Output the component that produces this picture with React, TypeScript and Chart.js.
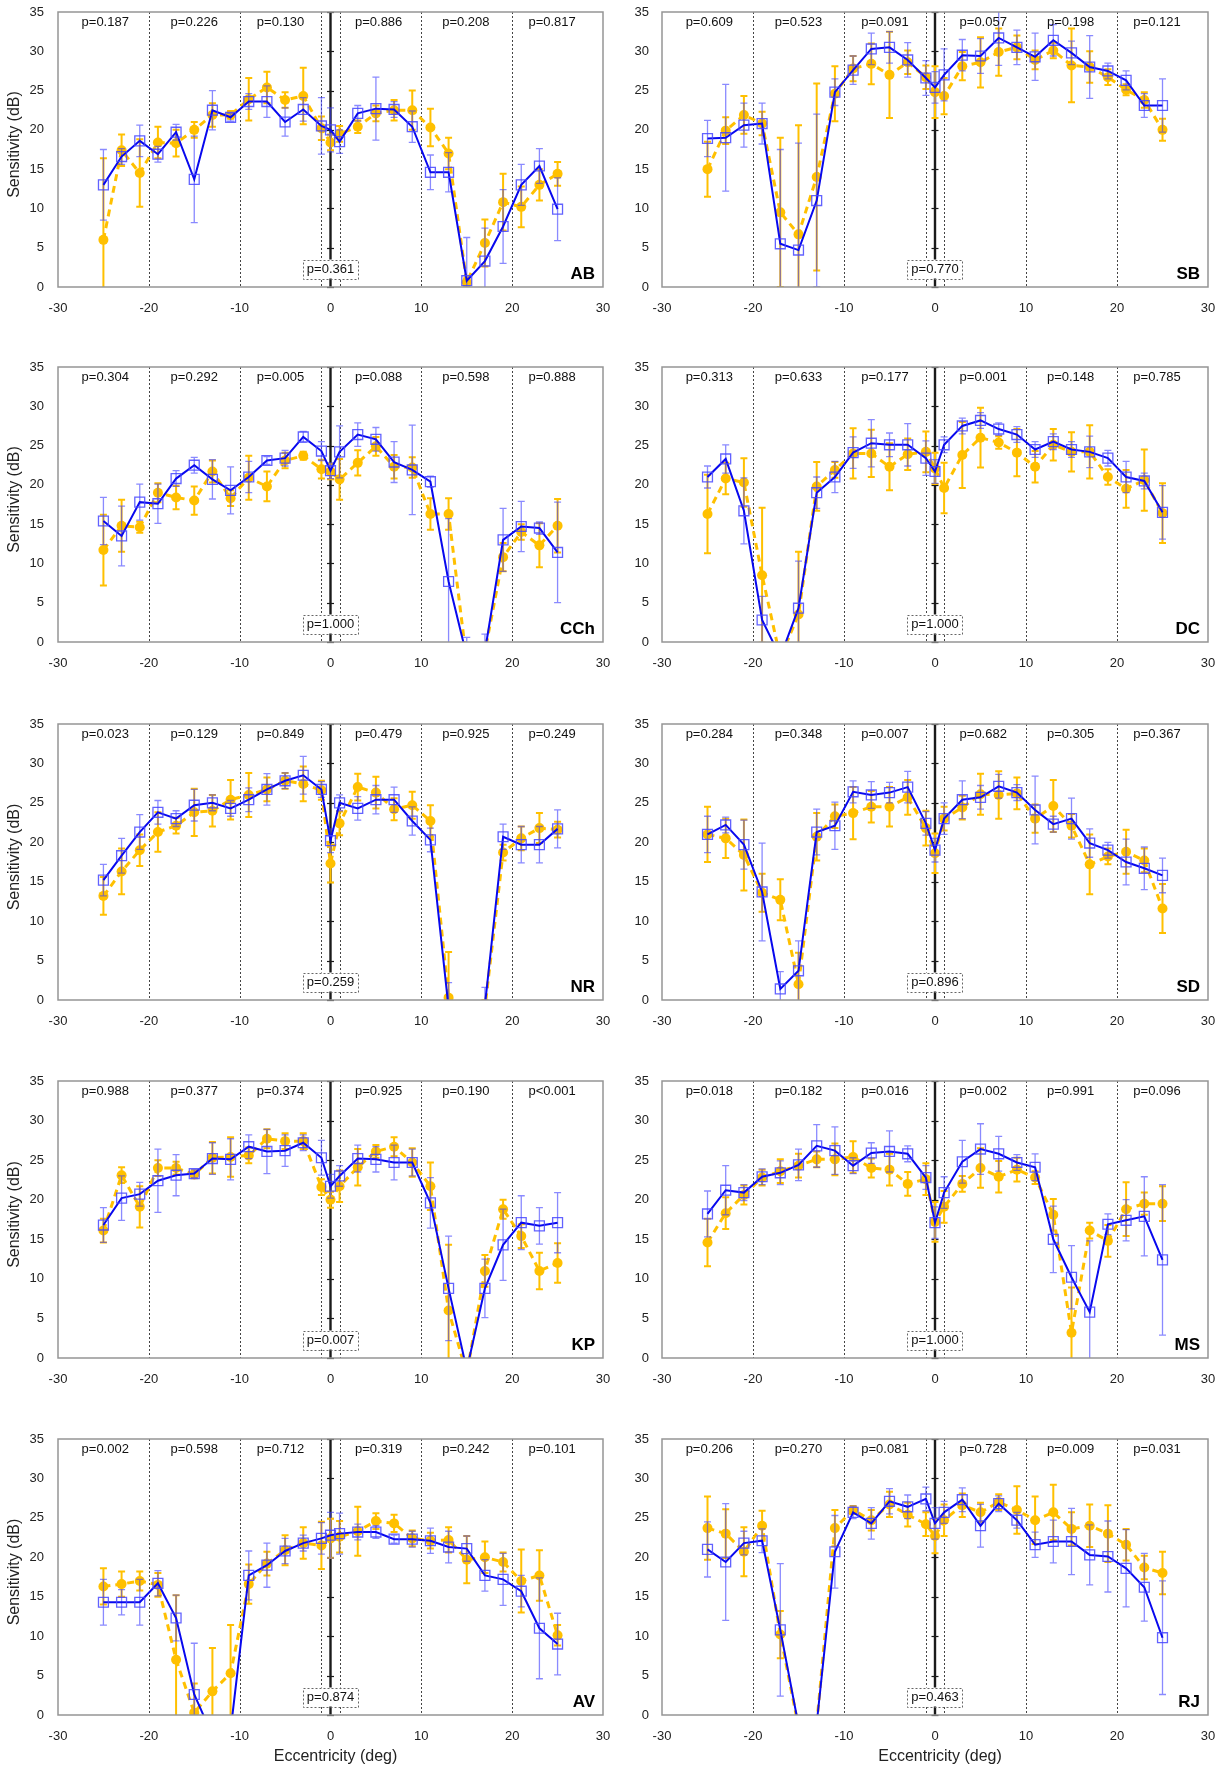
import React, { useEffect, useRef } from 'react';
import { Chart, registerables } from 'chart.js';

Chart.register(...registerables);

const FONT = '"Liberation Sans", Arial, sans-serif';
Chart.defaults.font.family = FONT;

// eccentricity positions (deg)
const ecc = [-25, -23, -21, -19, -17, -15, -13, -11, -9, -7, -5, -3, -1, 0, 1, 3, 5, 7, 9, 11, 13, 15, 17, 19, 21, 23, 25];
const dividerX = [-20, -10, -1, 1, 10, 20];
const pLabelX = [-24.8, -15, -5.5, 5.3, 14.9, 24.4];

// ---- AB ----
const abBlue = [13.0, 16.6, 18.6, 16.9, 19.7, 13.7, 22.5, 21.6, 23.6, 23.6, 21.0, 22.6, 20.5, 20.0, 18.5, 22.1, 22.7, 22.6, 20.4, 14.6, 14.6, 0.8, 3.3, 7.7, 13.0, 15.4, 9.9];
const abBlueErr = [4.5, 1.0, 2.0, 1.0, 1.0, 5.5, 2.5, 0.5, 1.0, 2.0, 1.8, 1.5, 3.6, 2.8, 1.5, 1.0, 4.0, 1.0, 2.0, 2.2, 2.5, 5.5, 4.2, 4.7, 2.6, 2.2, 4.0];
const abYellow = [6.0, 17.4, 14.5, 18.4, 18.3, 20.0, 21.9, 21.9, 23.9, 25.4, 23.8, 24.3, 20.2, 18.4, 19.5, 20.4, 22.1, 22.5, 22.5, 20.3, 17.0, 0.6, 5.6, 10.8, 10.2, 13.0, 14.4];
const abYellowErr = [10.4, 2.0, 4.3, 2.0, 1.7, 1.0, 1.5, 0.5, 2.7, 2.0, 1.0, 3.6, 1.5, 1.0, 1.0, 0.8, 1.0, 1.3, 2.5, 2.4, 2.0, 0.5, 3.0, 3.6, 2.6, 2.0, 1.5];
const abP = ['p=0.187', 'p=0.226', 'p=0.130', 'p=0.886', 'p=0.208', 'p=0.817'];
const abPc = 'p=0.361';

// ---- SB ----
const sbBlue = [18.9, 19.0, 20.6, 20.8, 5.5, 4.7, 11.0, 24.8, 27.6, 30.3, 30.5, 28.9, 26.6, 25.4, 27.0, 29.5, 29.4, 31.7, 30.5, 29.3, 31.4, 29.8, 28.0, 27.5, 26.3, 23.1, 23.1];
const sbBlueErr = [2.3, 6.8, 2.8, 2.6, 12.0, 13.6, 11.0, 1.7, 1.8, 2.0, 2.0, 2.2, 2.2, 2.0, 3.3, 2.0, 2.2, 3.5, 2.2, 3.0, 2.0, 1.5, 4.0, 1.0, 1.2, 1.5, 3.4];
const sbYellow = [15.0, 19.9, 21.9, 20.8, 9.5, 6.7, 14.0, 24.6, 27.8, 28.4, 27.0, 28.6, 26.7, 24.8, 24.3, 28.1, 28.6, 29.9, 30.5, 28.9, 30.1, 28.2, 28.0, 26.7, 25.1, 23.8, 20.0];
const sbYellowErr = [3.5, 1.7, 2.4, 1.5, 9.5, 13.9, 11.9, 3.5, 1.6, 2.6, 5.5, 1.5, 1.5, 3.3, 2.3, 1.8, 3.2, 3.0, 1.5, 1.2, 1.0, 4.7, 2.0, 1.0, 0.7, 1.0, 1.4];
const sbP = ['p=0.609', 'p=0.523', 'p=0.091', 'p=0.057', 'p=0.198', 'p=0.121'];
const sbPc = 'p=0.770';

// ---- CCh ----
const cchBlue = [15.4, 13.5, 17.8, 17.6, 20.8, 22.5, 20.7, 19.3, 21.0, 23.1, 23.4, 26.1, 24.3, 21.8, 24.2, 26.4, 25.8, 22.9, 21.9, 20.4, 7.7, -1.8, -1.2, 13.0, 14.7, 14.5, 11.4];
const cchBlueErr = [3.0, 3.8, 2.3, 2.5, 1.0, 1.0, 2.5, 3.0, 2.0, 0.5, 1.0, 0.7, 1.2, 1.0, 3.3, 1.5, 1.5, 2.6, 5.7, 0.7, 8.0, 2.4, 2.2, 4.0, 3.2, 0.8, 6.4];
const cchYellow = [11.7, 14.8, 14.6, 19.0, 18.4, 18.0, 21.7, 18.3, 20.9, 19.8, 23.1, 23.7, 22.0, 21.7, 20.7, 22.8, 24.9, 22.3, 22.2, 16.3, 16.3, -2.5, -1.2, 10.8, 14.0, 12.3, 14.8];
const cchYellowErr = [4.5, 3.3, 0.7, 1.2, 1.5, 1.8, 1.4, 1.0, 2.8, 1.9, 1.0, 0.5, 1.2, 1.0, 2.6, 1.6, 1.2, 1.5, 1.3, 2.0, 2.0, 1.0, 1.0, 1.8, 1.0, 2.8, 3.4];
const cchP = ['p=0.304', 'p=0.292', 'p=0.005', 'p=0.088', 'p=0.598', 'p=0.888'];
const cchPc = 'p=1.000';

// ---- DC ----
const dcBlue = [21.0, 23.3, 16.7, 2.8, -1.9, 4.3, 19.0, 21.0, 24.1, 25.3, 25.1, 25.1, 23.4, 21.7, 25.1, 27.5, 28.2, 27.1, 26.4, 24.5, 25.5, 24.5, 24.2, 23.4, 21.0, 20.5, 16.5];
const dcBlueErr = [1.4, 1.8, 4.2, 3.0, 1.0, 6.0, 2.0, 2.0, 2.0, 3.0, 1.5, 2.7, 2.2, 1.5, 1.0, 1.0, 1.0, 0.8, 1.0, 1.0, 1.0, 1.0, 2.0, 1.0, 2.0, 1.0, 3.4];
const dcYellow = [16.3, 20.8, 20.3, 8.5, -2.0, 3.5, 19.8, 21.9, 24.0, 24.0, 22.3, 23.9, 24.2, 22.1, 19.6, 23.8, 26.0, 25.4, 24.1, 22.3, 25.1, 24.2, 24.2, 21.0, 19.5, 20.6, 16.4];
const dcYellowErr = [5.0, 2.0, 3.1, 8.6, 1.0, 8.0, 3.1, 1.0, 3.2, 3.0, 3.0, 2.0, 2.6, 2.0, 3.2, 4.2, 3.8, 0.8, 3.0, 2.0, 2.0, 2.5, 3.4, 1.0, 2.4, 3.9, 3.8];
const dcP = ['p=0.313', 'p=0.633', 'p=0.177', 'p=0.001', 'p=0.148', 'p=0.785'];
const dcPc = 'p=1.000';

// ---- NR ----
const nrBlue = [15.2, 18.3, 21.3, 23.8, 23.0, 24.7, 25.0, 24.3, 25.4, 26.7, 27.8, 28.5, 26.7, 20.2, 25.0, 24.3, 25.4, 25.4, 22.7, 20.3, -1.0, -3.0, -0.7, 20.7, 19.7, 19.7, 21.7];
const nrBlueErr = [2.0, 2.2, 2.2, 1.5, 1.0, 2.0, 1.0, 1.0, 1.5, 2.0, 1.0, 2.4, 1.0, 1.5, 1.0, 1.5, 1.8, 1.6, 1.8, 1.5, 3.2, 1.0, 2.3, 1.6, 2.3, 2.3, 2.4];
const nrYellow = [13.2, 16.3, 19.0, 21.3, 22.1, 23.8, 24.0, 25.4, 26.0, 26.7, 27.8, 27.4, 26.6, 17.3, 22.4, 27.0, 26.3, 24.2, 24.7, 22.7, 0.3, -3.0, -1.0, 18.7, 20.5, 21.8, 21.6];
const nrYellowErr = [2.4, 2.9, 2.0, 2.5, 1.0, 3.0, 2.0, 2.5, 2.8, 1.5, 1.0, 2.2, 1.2, 2.4, 1.5, 1.7, 2.0, 1.4, 1.7, 2.0, 5.8, 1.0, 1.0, 1.0, 1.5, 1.9, 1.0];
const nrP = ['p=0.023', 'p=0.129', 'p=0.849', 'p=0.479', 'p=0.925', 'p=0.249'];
const nrPc = 'p=0.259';

// ---- SD ----
const sdBlue = [21.0, 22.2, 19.7, 13.7, 1.4, 3.7, 21.3, 22.1, 26.4, 26.0, 26.3, 27.0, 22.4, 19.0, 23.0, 25.4, 25.7, 27.1, 26.3, 24.1, 22.3, 23.0, 19.9, 19.0, 17.5, 16.7, 15.8];
const sdBlueErr = [2.3, 1.0, 3.1, 6.2, 2.2, 3.8, 2.9, 3.0, 1.4, 1.7, 1.3, 2.0, 1.5, 1.5, 2.0, 2.4, 1.5, 1.5, 1.0, 4.3, 1.0, 2.6, 1.8, 1.0, 2.9, 2.7, 2.2];
const sdYellow = [21.0, 20.5, 18.4, 13.6, 12.7, 2.0, 20.7, 23.3, 23.7, 24.5, 24.5, 25.7, 21.8, 18.6, 23.0, 24.4, 26.1, 26.0, 26.2, 23.0, 24.6, 22.1, 17.2, 18.2, 18.8, 17.7, 11.6];
const sdYellowErr = [3.5, 2.5, 4.5, 2.4, 2.6, 4.0, 3.0, 1.5, 3.3, 2.0, 2.5, 2.2, 2.2, 2.5, 1.5, 1.5, 2.6, 3.0, 2.0, 1.8, 3.3, 1.5, 3.8, 1.0, 2.8, 1.5, 3.1];
const sdP = ['p=0.284', 'p=0.348', 'p=0.007', 'p=0.682', 'p=0.305', 'p=0.367'];
const sdPc = 'p=0.896';

// ---- KP ----
const kpBlue = [16.8, 20.2, 20.7, 22.4, 23.1, 23.3, 25.2, 25.1, 26.7, 26.1, 26.2, 27.2, 25.3, 21.7, 23.0, 25.2, 25.1, 24.7, 24.7, 19.6, 8.8, -1.5, 8.8, 14.3, 17.1, 16.7, 17.1];
const kpBlueErr = [2.2, 2.8, 1.5, 4.0, 2.6, 0.5, 2.0, 2.6, 1.5, 2.8, 2.0, 1.0, 2.2, 1.5, 1.3, 1.7, 1.6, 2.2, 1.7, 3.2, 6.6, 1.0, 3.7, 4.5, 3.4, 2.3, 3.8];
const kpYellow = [16.1, 23.1, 19.1, 24.0, 24.0, 23.2, 25.3, 25.4, 25.6, 27.7, 27.4, 27.4, 21.6, 20.0, 21.7, 24.1, 26.1, 26.7, 24.7, 21.7, 6.0, -2.0, 11.0, 18.8, 15.4, 11.0, 12.0];
const kpYellowErr = [1.5, 1.0, 2.6, 1.0, 0.8, 0.5, 2.0, 2.5, 1.0, 1.2, 1.0, 1.0, 1.0, 1.0, 2.0, 2.3, 0.8, 1.2, 1.8, 3.0, 8.3, 1.0, 2.0, 1.2, 1.5, 2.3, 2.5];
const kpP = ['p=0.988', 'p=0.377', 'p=0.374', 'p=0.925', 'p=0.190', 'p<0.001'];
const kpPc = 'p=0.007';

// ---- MS ----
const msBlue = [18.2, 21.2, 20.9, 22.9, 23.4, 24.4, 26.8, 26.2, 24.3, 25.9, 26.1, 25.8, 22.8, 17.1, 20.9, 24.8, 26.4, 25.8, 24.7, 24.1, 15.0, 10.2, 5.8, 16.9, 17.4, 17.9, 12.4];
const msBlueErr = [2.9, 3.1, 1.0, 1.0, 1.5, 2.0, 2.7, 3.0, 1.0, 1.3, 2.6, 1.0, 1.5, 2.0, 2.0, 2.7, 3.2, 2.2, 1.0, 1.7, 4.2, 4.0, 9.0, 1.3, 2.6, 5.0, 9.5];
const msYellow = [14.6, 18.3, 20.6, 22.8, 23.6, 24.3, 25.1, 25.1, 25.4, 24.0, 23.8, 22.0, 22.6, 17.2, 19.1, 22.0, 24.0, 22.9, 23.8, 22.8, 18.1, 3.2, 16.1, 14.8, 18.8, 19.5, 19.5];
const msYellowErr = [3.0, 2.0, 1.2, 1.0, 1.5, 1.5, 1.0, 2.0, 2.0, 1.2, 2.0, 1.5, 2.0, 2.5, 2.0, 1.0, 2.5, 2.0, 1.5, 0.8, 2.0, 5.7, 1.0, 2.0, 3.4, 1.4, 2.2];
const msP = ['p=0.018', 'p=0.182', 'p=0.016', 'p=0.002', 'p=0.991', 'p=0.096'];
const msPc = 'p=1.000';

// ---- AV ----
const avBlue = [14.3, 14.3, 14.3, 16.7, 12.3, 2.6, -2.6, -2.0, 17.7, 19.0, 20.8, 21.8, 22.4, 22.8, 23.0, 23.2, 23.2, 22.3, 22.3, 22.1, 21.3, 21.1, 17.7, 17.2, 15.7, 11.0, 9.0];
const avBlueErr = [2.9, 1.6, 2.9, 1.6, 2.9, 6.5, 1.0, 1.0, 3.1, 2.8, 1.6, 1.0, 2.0, 2.9, 2.6, 1.0, 0.8, 0.5, 1.0, 1.6, 2.0, 1.6, 2.0, 3.3, 2.0, 6.4, 3.9];
const avYellow = [16.3, 16.6, 17.0, 16.5, 7.0, 0.3, 3.0, 5.3, 16.6, 19.2, 20.9, 21.8, 21.5, 22.4, 22.6, 23.3, 24.6, 24.3, 22.4, 22.1, 22.2, 19.7, 20.0, 19.4, 17.0, 17.7, 10.1];
const avYellowErr = [2.3, 1.6, 1.2, 1.5, 8.2, 3.7, 5.5, 6.1, 2.5, 1.5, 1.9, 2.0, 3.0, 2.5, 2.0, 3.1, 1.0, 1.1, 1.0, 1.0, 1.6, 3.0, 2.0, 1.2, 4.0, 3.2, 1.3];
const avP = ['p=0.002', 'p=0.598', 'p=0.712', 'p=0.319', 'p=0.242', 'p=0.101'];
const avPc = 'p=0.874';

// ---- RJ ----
const rjBlue = [21.0, 19.4, 21.8, 22.1, 10.8, -1.3, -1.1, 20.7, 25.7, 24.3, 27.1, 26.4, 27.4, 24.3, 25.7, 27.3, 24.0, 26.8, 24.7, 21.6, 22.0, 22.0, 20.3, 20.1, 18.6, 16.2, 9.8];
const rjBlueErr = [3.5, 7.4, 1.5, 1.5, 8.4, 1.0, 1.0, 4.6, 0.8, 2.0, 1.6, 1.5, 1.5, 2.0, 1.4, 1.5, 2.7, 1.0, 1.0, 1.6, 2.7, 4.2, 3.8, 4.5, 4.9, 4.3, 7.2];
const rjYellow = [23.7, 23.0, 20.7, 24.0, 10.2, -1.5, -1.2, 23.7, 26.0, 24.7, 26.7, 25.4, 24.2, 22.7, 24.7, 26.6, 25.7, 27.0, 26.0, 24.7, 25.7, 23.6, 24.0, 23.0, 21.6, 18.7, 18.0];
const rjYellowErr = [4.0, 3.1, 3.1, 1.9, 3.0, 1.0, 1.0, 2.3, 0.5, 1.3, 1.6, 1.5, 1.5, 2.2, 2.0, 1.5, 1.2, 1.0, 3.0, 3.0, 3.5, 2.1, 2.7, 3.6, 2.0, 1.5, 2.7];
const rjP = ['p=0.206', 'p=0.270', 'p=0.081', 'p=0.728', 'p=0.009', 'p=0.031'];
const rjPc = 'p=0.463';

type PanelData = {
  label: string; blue: number[]; blueErr: number[]; yellow: number[]; yellowErr: number[]; p: string[]; pc: string;
};

const panels: PanelData[] = [
  { label: 'AB', blue: abBlue, blueErr: abBlueErr, yellow: abYellow, yellowErr: abYellowErr, p: abP, pc: abPc },
  { label: 'SB', blue: sbBlue, blueErr: sbBlueErr, yellow: sbYellow, yellowErr: sbYellowErr, p: sbP, pc: sbPc },
  { label: 'CCh', blue: cchBlue, blueErr: cchBlueErr, yellow: cchYellow, yellowErr: cchYellowErr, p: cchP, pc: cchPc },
  { label: 'DC', blue: dcBlue, blueErr: dcBlueErr, yellow: dcYellow, yellowErr: dcYellowErr, p: dcP, pc: dcPc },
  { label: 'NR', blue: nrBlue, blueErr: nrBlueErr, yellow: nrYellow, yellowErr: nrYellowErr, p: nrP, pc: nrPc },
  { label: 'SD', blue: sdBlue, blueErr: sdBlueErr, yellow: sdYellow, yellowErr: sdYellowErr, p: sdP, pc: sdPc },
  { label: 'KP', blue: kpBlue, blueErr: kpBlueErr, yellow: kpYellow, yellowErr: kpYellowErr, p: kpP, pc: kpPc },
  { label: 'MS', blue: msBlue, blueErr: msBlueErr, yellow: msYellow, yellowErr: msYellowErr, p: msP, pc: msPc },
  { label: 'AV', blue: avBlue, blueErr: avBlueErr, yellow: avYellow, yellowErr: avYellowErr, p: avP, pc: avPc },
  { label: 'RJ', blue: rjBlue, blueErr: rjBlueErr, yellow: rjYellow, yellowErr: rjYellowErr, p: rjP, pc: rjPc },
];

// chart-area top/bottom per row (page pixels)
const rowBounds = [[12, 287], [367, 642], [724, 1000], [1081, 1358], [1439, 1715]];
// per column: canvas left, canvas width, y-axis width, right padding, tick padding
const colLayout = [
  { left: 0, width: 620, yw: 58, padR: 17, tickPad: 14 },
  { left: 620, width: 601, yw: 42, padR: 13, tickPad: 13 },
];
const CANVAS_H = 340;

function makeOverlay(p: PanelData, col: number, row: number) {
  return {
    id: 'overlay',
    beforeDatasetsDraw(chart: any) {
      const { ctx, chartArea: a } = chart;
      const x = chart.scales.x, y = chart.scales.y;
      ctx.save();
      ctx.strokeStyle = '#444';
      ctx.lineWidth = 1;
      ctx.setLineDash([2, 2]);
      dividerX.forEach((d) => {
        const px = Math.round(x.getPixelForValue(d)) + 0.5;
        ctx.beginPath(); ctx.moveTo(px, a.top); ctx.lineTo(px, a.bottom); ctx.stroke();
      });
      ctx.setLineDash([]);
      const cx = x.getPixelForValue(0);
      ctx.strokeStyle = '#1a1a1a';
      ctx.lineWidth = 2.4;
      ctx.beginPath(); ctx.moveTo(cx, a.top); ctx.lineTo(cx, a.bottom); ctx.stroke();
      ctx.lineWidth = 1.2;
      y.ticks.forEach((t: any) => {
        const py = Math.round(y.getPixelForValue(t.value)) + 0.5;
        ctx.beginPath(); ctx.moveTo(cx - 3.5, py); ctx.lineTo(cx + 3.5, py); ctx.stroke();
      });
      ctx.restore();
    },
    beforeDatasetDraw(chart: any, args: any) {
      const { ctx, chartArea: a } = chart;
      const x = chart.scales.x, y = chart.scales.y;
      const isBlue = args.index === 0;
      const vals = isBlue ? p.blue : p.yellow;
      const errs = isBlue ? p.blueErr : p.yellowErr;
      ctx.save();
      ctx.beginPath();
      ctx.rect(a.left, a.top, a.right - a.left, a.bottom - a.top);
      ctx.clip();
      ctx.strokeStyle = isBlue ? 'rgba(60,60,255,0.6)' : '#FFC000';
      ctx.lineWidth = isBlue ? 1.3 : 2;
      vals.forEach((v, i) => {
        const e = errs[i];
        const px = x.getPixelForValue(ecc[i]);
        const yt = y.getPixelForValue(v + e);
        const yb = y.getPixelForValue(v - e);
        ctx.beginPath();
        ctx.moveTo(px, yt); ctx.lineTo(px, yb);
        ctx.moveTo(px - 3.5, yt); ctx.lineTo(px + 3.5, yt);
        ctx.moveTo(px - 3.5, yb); ctx.lineTo(px + 3.5, yb);
        ctx.stroke();
      });
      ctx.restore();
    },
    afterDatasetsDraw(chart: any) {
      const { ctx, chartArea: a } = chart;
      const x = chart.scales.x;
      ctx.save();
      // plot frame
      ctx.strokeStyle = '#959595';
      ctx.lineWidth = 1.5;
      ctx.strokeRect(a.left, a.top, a.right - a.left, a.bottom - a.top);
      // p-values on top
      ctx.fillStyle = '#111';
      ctx.font = `13px ${FONT}`;
      ctx.textAlign = 'center';
      ctx.textBaseline = 'middle';
      p.p.forEach((t, i) => ctx.fillText(t, x.getPixelForValue(pLabelX[i]), a.top + 10));
      // centre p-box
      const cx = x.getPixelForValue(0);
      const cy = a.bottom - 18;
      const w = ctx.measureText(p.pc).width + 8;
      const h = 19;
      ctx.fillStyle = '#fff';
      ctx.fillRect(cx - w / 2, cy - h / 2, w, h);
      ctx.strokeStyle = '#666';
      ctx.lineWidth = 1;
      ctx.setLineDash([2, 2]);
      ctx.strokeRect(Math.round(cx - w / 2) + 0.5, Math.round(cy - h / 2) + 0.5, Math.round(w), h);
      ctx.setLineDash([]);
      ctx.fillStyle = '#111';
      ctx.fillText(p.pc, cx, cy + 0.5);
      // subject label
      ctx.font = `bold 17px ${FONT}`;
      ctx.textAlign = 'right';
      ctx.textBaseline = 'alphabetic';
      ctx.fillStyle = '#000';
      ctx.fillText(p.label, a.right - 8, a.bottom - 8);
      // axis titles
      ctx.fillStyle = '#222';
      if (col === 0) {
        ctx.save();
        ctx.font = `16px ${FONT}`;
        ctx.translate(15, (a.top + a.bottom) / 2 - 5);
        ctx.rotate(-Math.PI / 2);
        ctx.textAlign = 'center';
        ctx.textBaseline = 'middle';
        ctx.fillText('Sensitivity (dB)', 0, 0);
        ctx.restore();
      }
      if (row === 4) {
        ctx.font = `16px ${FONT}`;
        ctx.textAlign = 'center';
        ctx.textBaseline = 'middle';
        ctx.fillText('Eccentricity (deg)', (a.left + a.right) / 2 + 5, a.bottom + 42);
      }
      ctx.restore();
    },
  };
}

function Panel({ p, col, row }: { p: PanelData; col: number; row: number }) {
  const ref = useRef<HTMLCanvasElement>(null);
  const [top, bottom] = rowBounds[row];
  const L = colLayout[col];
  useEffect(() => {
    if (!ref.current) return;
    const xh = CANVAS_H - 12 - (bottom - top);
    const tickFont = { family: FONT, size: 13 };
    const chart = new Chart(ref.current, {
      type: 'line',
      data: {
        datasets: [
          {
            data: ecc.map((e, i) => ({ x: e, y: p.blue[i] })),
            borderColor: '#0808ee',
            borderWidth: 2,
            pointStyle: 'rect',
            pointRadius: 7,
            pointBorderWidth: 1.3,
            pointBorderColor: 'rgba(70,70,255,0.85)',
            pointBackgroundColor: 'rgba(255,255,255,0)',
            tension: 0,
            fill: false,
          },
          {
            data: ecc.map((e, i) => ({ x: e, y: p.yellow[i] })),
            borderColor: '#FFC000',
            borderWidth: 3,
            borderDash: [7, 5],
            pointStyle: 'circle',
            pointRadius: 5,
            pointBorderWidth: 0,
            pointBorderColor: '#FFC000',
            pointBackgroundColor: '#FFC000',
            tension: 0,
            fill: false,
          },
        ],
      } as any,
      options: {
        responsive: false,
        animation: false,
        events: [],
        layout: { padding: { top: 12, right: L.padR, left: 0, bottom: 0 } },
        plugins: { legend: { display: false }, tooltip: { enabled: false } },
        scales: {
          x: {
            type: 'linear',
            min: -30,
            max: 30,
            ticks: { stepSize: 10, padding: 14, color: '#222', font: tickFont, maxRotation: 0, autoSkip: false },
            grid: { display: false, drawTicks: false },
            border: { display: false },
            afterFit: (s: any) => { s.height = xh; s.paddingLeft = 0; s.paddingRight = 0; },
          },
          y: {
            type: 'linear',
            min: 0,
            max: 35,
            ticks: { stepSize: 5, padding: L.tickPad, color: '#222', font: tickFont },
            grid: { display: false, drawTicks: false },
            border: { display: false },
            afterFit: (s: any) => { s.width = L.yw; s.paddingTop = 0; s.paddingBottom = 0; },
          },
        },
      } as any,
      plugins: [makeOverlay(p, col, row) as any],
    });
    return () => chart.destroy();
  }, []);
  return (
    <canvas
      ref={ref}
      width={L.width}
      height={CANVAS_H}
      style={{ position: 'absolute', left: L.left, top: top - 12, width: L.width, height: CANVAS_H }}
    />
  );
}

export default function App() {
  return (
    <div style={{ position: 'absolute', left: 0, top: 0, width: 1221, height: 1767, background: '#fff', overflow: 'hidden' }}>
      {panels.map((p, i) => (
        <Panel key={p.label} p={p} col={i % 2} row={Math.floor(i / 2)} />
      ))}
    </div>
  );
}
